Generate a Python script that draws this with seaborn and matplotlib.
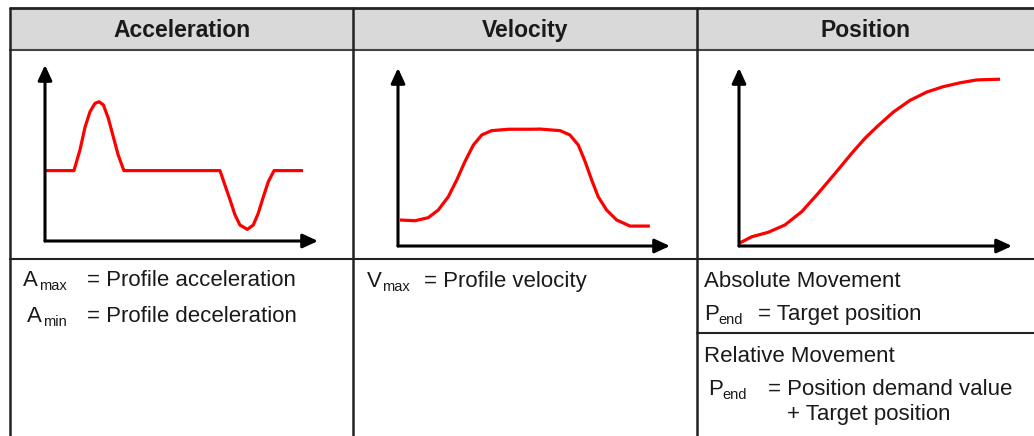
"""Motion profile table: acceleration, velocity and position curves."""

import matplotlib.pyplot as plt
import seaborn as sns

W, H = 1034, 436

HEADERS = ["Acceleration", "Velocity", "Position"]

# curves in normalised units: time 0..100, value 0..100 (origin at the axis corner)
ACC_T = [0, 10.6, 12.8, 14.7, 16.5, 18.3, 19.8, 21.4, 23.2, 25, 26.8, 28.9,
         64.1, 65.9, 67.8, 69.6, 71.4, 74.1, 76.3, 78.1, 80, 81.8, 83.9, 94.5]
ACC_A = [40, 40, 51.7, 64.9, 73.5, 78.2, 79.1, 77.3, 69.7, 59.3, 48.9, 40,
         40, 31.8, 23.3, 14.8, 9.1, 6.6, 9.1, 15.7, 25.2, 33.7, 40, 40]

VEL_T = [0.7, 6.3, 11.1, 14.8, 18.5, 21.6, 24.6, 27.7, 30.8, 34.4, 40.6, 49.2,
         52.2, 59.6, 63.2, 66.3, 68.8, 71.2, 73.6, 76.7, 80.4, 85.3, 92.6]
VEL_V = [14.6, 14.2, 15.9, 20.2, 27.7, 37.1, 47.4, 56.7, 62.4, 64.8, 65.6, 65.6,
         65.7, 64.8, 62.4, 56.7, 47.4, 37.1, 27.7, 20.2, 14.6, 11.2, 11.2]

POS_T = [0, 4.7, 10.7, 16.8, 23, 29, 35.2, 41.3, 46.2, 50.4, 56.5, 62.6,
         68.8, 74.8, 81, 87.1, 95.6]
POS_P = [1.5, 5.2, 7.7, 11.8, 19.3, 29.6, 40.8, 52.1, 60.6, 66.8, 75.2, 81.8,
         86.5, 89.5, 91.7, 93.3, 93.7]

sns.set_theme(style="white")
plt.rcParams["font.family"] = ["Liberation Sans", "DejaVu Sans"]

TXT = "#1a1a1a"
LINE = "#222222"


def table(fig):
    ax = fig.add_axes([0, 0, 1, 1])
    ax.set_xlim(0, W)
    ax.set_ylim(H, 0)
    ax.axis("off")

    ax.fill_between([10, W], 8, 50, color="#d9d9d9", lw=0)
    ax.plot([10, W], [8, 8], color=LINE, lw=2)
    ax.plot([10, W], [50, 50], color="#444444", lw=1.5)
    ax.plot([10, W], [259, 259], color=LINE, lw=1.5)
    ax.plot([697, W], [333, 333], color=LINE, lw=1.5)
    for x in [10, 353, 697]:
        ax.plot([x, x], [8, H], color=LINE, lw=1.8)

    centers = [181.5, 525, 866]
    for cx, name in zip(centers, HEADERS):
        ax.text(cx, 37, name, ha="center", va="baseline", fontsize=16.5,
                fontweight="bold", color=TXT)

    def label(x, y, main, sub, sub_dx, rest, rest_x):
        ax.text(x, y, main, fontsize=16, color=TXT, va="baseline")
        ax.text(x + sub_dx, y + 4, sub, fontsize=10.5, color=TXT, va="baseline")
        ax.text(rest_x, y, rest, fontsize=16, color=TXT, va="baseline")

    label(23, 286, "A", "max", 16, "= Profile acceleration", 87)
    label(27, 322, "A", "min", 16, "= Profile deceleration", 87)
    label(367, 287, "V", "max", 15, "= Profile velocity", 424)

    ax.text(704, 287, "Absolute Movement", fontsize=16, color=TXT, va="baseline")
    label(704, 320, "P", "end", 14, "= Target position", 758)
    ax.text(704, 362, "Relative Movement", fontsize=16, color=TXT, va="baseline")
    label(708, 395, "P", "end", 14, "= Position demand value", 768)
    ax.text(787, 420, "+ Target position", fontsize=16, color=TXT, va="baseline")


def panel(fig, origin, x_tip, y_tip, t, v):
    x0, y0 = origin
    ax = fig.add_axes([x0 / W, 1 - y0 / H, (x_tip - x0) / W, (y0 - y_tip) / H])
    ax.set_xlim(0, 100)
    ax.set_ylim(0, 100)
    ax.axis("off")
    arrow = dict(arrowstyle="-|>,head_length=0.65,head_width=0.3", lw=2.2,
                 color="black", mutation_scale=14, shrinkA=0, shrinkB=0)
    ax.annotate("", xy=(1, 0), xytext=(0, 0), xycoords="axes fraction",
                arrowprops=arrow, annotation_clip=False)
    ax.annotate("", xy=(0, 1), xytext=(0, 0), xycoords="axes fraction",
                arrowprops=arrow, annotation_clip=False)
    sns.lineplot(x=t, y=v, ax=ax, color="red", lw=2.3, sort=False,
                 estimator=None, clip_on=False, solid_joinstyle="round",
                 solid_capstyle="butt")


fig = plt.figure(figsize=(W / 100, H / 100), dpi=100)
fig.patch.set_facecolor("white")
table(fig)
panel(fig, (45, 241), 318, 65, ACC_T, ACC_A)
panel(fig, (398, 246), 670, 68, VEL_T, VEL_V)
panel(fig, (739, 246), 1012, 68, POS_T, POS_P)
fig.savefig("out.png", dpi=100)
plt.close(fig)
